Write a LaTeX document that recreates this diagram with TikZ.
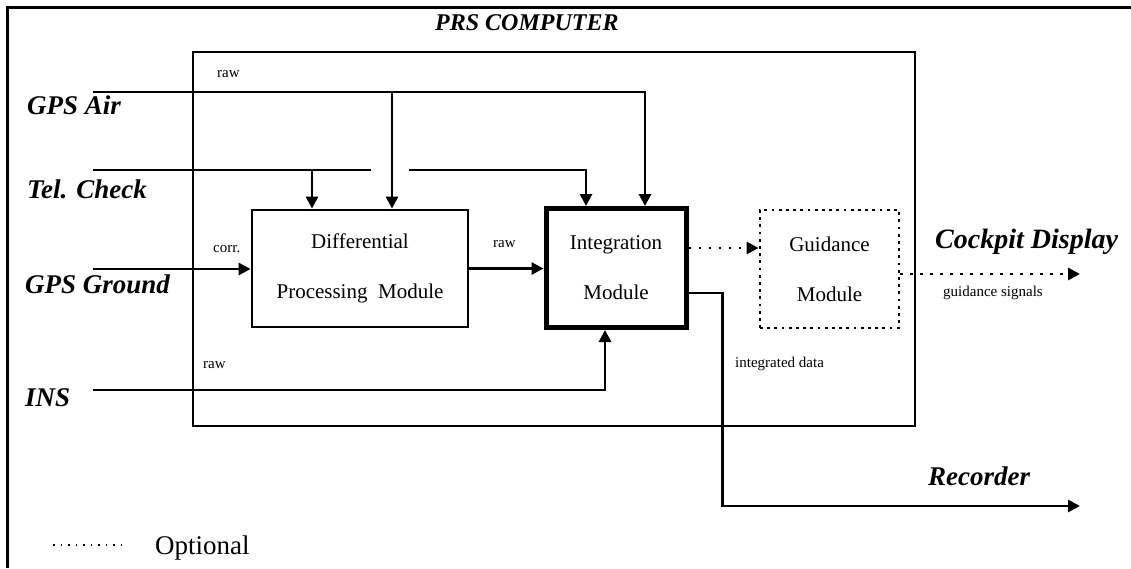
\documentclass[tikz,border=0pt]{standalone}
\usepackage{fontspec}
\setmainfont{Liberation Serif}
\usetikzlibrary{arrows.meta}

\begin{document}
\begin{tikzpicture}[x=1pt, y=-1pt, >={Triangle[length=12pt,width=12pt]},
    sig/.style={line width=2.8pt},
    opt/.style={line width=2.8pt, dash pattern=on 2.8pt off 7.2pt},
    module/.style={draw, line width=2.8pt, align=center, inner sep=0pt,
        font=\fontsize{21}{50}\selectfont},
    io/.style={anchor=base west, inner sep=0pt,
        font=\fontsize{27}{32}\selectfont\bfseries\itshape},
    tag/.style={anchor=base west, inner sep=0pt, font=\fontsize{15}{18}\selectfont}]
    \useasboundingbox (0,0) rectangle (1131,568);

    % Frame
    \draw[line width=3pt] (1131,7) -- (7,7) -- (7,568);

    % PRS computer
    \node[draw, line width=1.3pt, minimum width=722pt, minimum height=374pt] (prs) at (554,239) {};
    \node[io, font=\fontsize{24}{28}\selectfont\bfseries\itshape] (title) at (435,30) {PRS COMPUTER};

    % Modules
    \node[module, minimum width=216pt, minimum height=117pt] (diff) at (360,268.5) {Differential\\Processing\ \ Module};
    \node[module, line width=5pt, minimum width=140pt, minimum height=119pt] (integ) at (616,268) {Integration\\Module};
    \node[module, line width=2.8pt, dash pattern=on 2.8pt off 4.4pt, minimum width=139pt, minimum height=118pt] (guid) at (829.5,269) {Guidance\\Module};

    % Inputs
    \node[io] (air) at (27,114) {GPS Air};
    \node[io] (tel) at (27,198) {Tel. Check};
    \node[io] (gnd) at (25,293) {GPS Ground};
    \node[io] (ins) at (25,406) {INS};
    \coordinate (airin) at (93,92);
    \coordinate (airtap) at (392,92);
    \coordinate (telin) at (93,170);
    \coordinate (teltap) at (312,170);
    \coordinate (telcut) at (371,170);
    \coordinate (telhop) at (409,170);
    \coordinate (gndin) at (93,269);
    \coordinate (insin) at (93,390);

    \draw[sig,->] (airin) -| ([xshift=29pt]integ.north);
    \draw[sig,->] (airtap) -- (airtap |- diff.north);
    \draw[sig] (telin) -- (telcut);
    \draw[sig,->] (teltap) -- (teltap |- diff.north);
    \draw[sig,->] (telhop) -| ([xshift=-30pt]integ.north);
    \draw[sig,->] (gndin) -- (gndin -| diff.west);
    \draw[sig,->] (diff.east) -- (diff.east -| integ.west);
    \draw[sig,->] (insin) -| ([xshift=-11pt]integ.south);

    % Outputs
    \coordinate (optout) at ([yshift=20pt]integ.east);
    \coordinate (dispout) at (1080,274);
    \coordinate (recout) at (1080,506);
    \draw[opt,->] (optout) -- (optout -| guid.west);
    \draw[opt,->] (guid.east |- dispout) -- (dispout);
    \draw[sig,->] ([yshift=-25pt]integ.east) -- ++(34,0) |- (recout);
    \node[io, font=\fontsize{28}{32}\selectfont\bfseries\itshape] (cockpit) at (935,248) {Cockpit Display};
    \node[io] (recorder) at (928,485) {Recorder};

    % Labels
    \node[tag] (rawair) at (217,77) {raw};
    \node[tag] (corr) at (213,252) {corr.};
    \node[tag] (rawdiff) at (493,247) {raw};
    \node[tag] (rawins) at (203,368) {raw};
    \node[tag] (intdata) at (735,367) {integrated data};
    \node[tag] (guidsig) at (943,296) {guidance signals};

    % Legend
    \draw[line width=1.5pt, dash pattern=on 1.5pt off 6pt] (53,545) -- (128,545);
    \node[anchor=base west, inner sep=0pt, font=\fontsize{27}{32}\selectfont] (optional) at (155,554) {Optional};
\end{tikzpicture}
\end{document}
